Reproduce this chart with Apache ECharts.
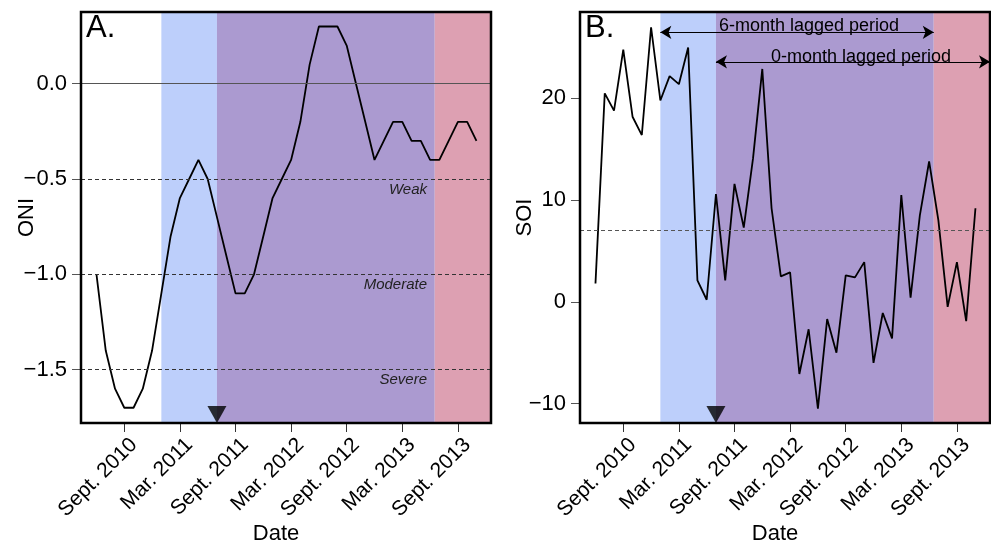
<!DOCTYPE html>
<html><head><meta charset="utf-8">
<script src="https://cdn.jsdelivr.net/npm/echarts@6/dist/echarts.min.js"></script>
<style>html,body{margin:0;padding:0;background:#fff}#c{width:991px;height:548px}</style>
</head><body><div id="c"></div>
<script>
// ---- data ----
const dates = ['2010-06','2010-07','2010-08','2010-09','2010-10','2010-11','2010-12',
  '2011-01','2011-02','2011-03','2011-04','2011-05','2011-06','2011-07','2011-08','2011-09','2011-10','2011-11','2011-12',
  '2012-01','2012-02','2012-03','2012-04','2012-05','2012-06','2012-07','2012-08','2012-09','2012-10','2012-11','2012-12',
  '2013-01','2013-02','2013-03','2013-04','2013-05','2013-06','2013-07','2013-08','2013-09','2013-10','2013-11'];
const oni = [-1.0,-1.4,-1.6,-1.7,-1.7,-1.6,-1.4,
  -1.1,-0.8,-0.6,-0.5,-0.4,-0.5,-0.7,-0.9,-1.1,-1.1,-1.0,-0.8,
  -0.6,-0.5,-0.4,-0.2,0.1,0.3,0.3,0.3,0.2,0.0,-0.2,-0.4,
  -0.3,-0.2,-0.2,-0.3,-0.3,-0.4,-0.4,-0.3,-0.2,-0.2,-0.3];
const soi = [1.8,20.5,18.8,24.8,18.2,16.4,27.0,
  19.8,22.2,21.4,25.0,2.1,0.2,10.6,2.1,11.6,7.3,14.1,22.9,
  9.2,2.5,2.9,-7.1,-2.7,-10.5,-1.7,-5.0,2.6,2.4,3.9,-6.0,
  -1.1,-3.6,10.5,0.4,8.5,13.8,8.0,-0.5,3.9,-1.9,9.2];
const tickDates = ['2010-09','2011-03','2011-09','2012-03','2012-09','2013-03','2013-09'];
const tickLabels = ['Sept. 2010','Mar. 2011','Sept. 2011','Mar. 2012','Sept. 2012','Mar. 2013','Sept. 2013'];
const oniTicks = [-1.5,-1.0,-0.5,0.0];
const soiTicks = [-10,0,10,20];
const oniThresholds = [-0.5,-1.0,-1.5];
const oniThresholdNames = ['Weak','Moderate','Severe'];
const soiThreshold = 7;
const periodStarts = ['2011-01','2011-07','2013-06-16']; // pre-lag, lagged, post
const eventDate = '2011-07';
const lag6Label = '6-month lagged period';
const lag0Label = '0-month lagged period';
const lag6Y = 26.5, lag0Y = 23.6;

// ---- helpers ----
function toIdx(s){ const p=s.split('-').map(Number); return (p[0]-2010)*12+(p[1]-9)+(p[2]?(p[2]-1)/30:0); }
const X_MIN=-4.67, X_MAX=39.57;
const FONT='Liberation Sans, Arial, sans-serif';
const tickIdx = tickDates.map(toIdx);
const pA = periodStarts.map(toIdx);
const colors = ['#bdcffb','#ab9ad0','#dda0b2'];
const fmtMinus = v => String(v).replace('-', '\u2212');

const gridA={left:81,top:12,width:410,height:411,outerBoundsMode:'none',containLabel:false};
const gridB={left:580,top:12,width:410,height:411,outerBoundsMode:'none',containLabel:false};

function xAxis(gi){
  return {type:'value',gridIndex:gi,min:X_MIN,max:X_MAX,
    name:'Date',nameLocation:'middle',nameGap:100,nameMoveOverlap:false,
    nameTextStyle:{fontSize:22,fontFamily:FONT,color:'#000',padding:[0,20,0,0]},
    axisLine:{show:false,onZero:false},splitLine:{show:false},
    axisTick:{show:true,length:9,customValues:tickIdx,lineStyle:{color:'#333',width:1}},
    axisLabel:{customValues:tickIdx,rotate:45,fontSize:21,fontFamily:FONT,color:'#000',margin:9,
      verticalAlign:'top',padding:[3,0,0,0],hideOverlap:false,
      formatter:v=>{const i=tickIdx.findIndex(t=>Math.abs(t-v)<1e-6);return i>=0?tickLabels[i]:'';}}
  };
}
function yAxis(gi,min,max,ticks,name,dec,gap){
  return {type:'value',gridIndex:gi,min:min,max:max,
    name:name,nameLocation:'middle',nameGap:gap,nameRotate:90,nameMoveOverlap:false,
    nameTextStyle:{fontSize:22,fontFamily:FONT,color:'#000'},
    axisLine:{show:false,onZero:false},splitLine:{show:false},
    axisTick:{show:true,length:9,customValues:ticks,lineStyle:{color:'#555',width:1}},
    axisLabel:{customValues:ticks,fontSize:22,fontFamily:FONT,color:'#000',margin:14,
      formatter:v=>fmtMinus(dec?Number(v).toFixed(1):Math.round(v))}
  };
}
function bands(gi){
  const ends=[pA[1],pA[2],X_MAX];
  return {type:'line',xAxisIndex:gi,yAxisIndex:gi,data:[],silent:true,z:1,
    markArea:{silent:true,data:pA.map((s,i)=>[{xAxis:s,itemStyle:{color:colors[i],opacity:1}},{xAxis:ends[i]}])}};
}
function tri(gi,ymin){
  return {type:'scatter',xAxisIndex:gi,yAxisIndex:gi,data:[[toIdx(eventDate),ymin]],symbol:'triangle',
    symbolRotate:180,symbolSize:[19,17],symbolOffset:[0,-8.5],itemStyle:{color:'#000'},clip:false,z:6,silent:true};
}
const A_MIN=-1.78,A_MAX=0.376,B_MIN=-11.92,B_MAX=28.5;

const option={
  animation:false,
  grid:[gridA,gridB],
  xAxis:[xAxis(0),xAxis(1)],
  yAxis:[yAxis(0,A_MIN,A_MAX,oniTicks,'ONI',true,43),yAxis(1,B_MIN,B_MAX,soiTicks,'SOI',false,44)],
  series:[
    bands(0),bands(1),
    {type:'line',xAxisIndex:0,yAxisIndex:0,data:[],silent:true,z:2,
      markLine:{silent:true,symbol:'none',
        data:[{yAxis:0,lineStyle:{type:'solid',color:'#555',width:1.2},label:{show:false}}].concat(
          oniThresholds.map((t,i)=>({yAxis:t,lineStyle:{type:[4,3],color:'#333',width:1},
            label:{show:true,formatter:oniThresholdNames[i],position:'insideEndBottom',distance:[64,3],
              fontSize:15,fontStyle:'italic',fontFamily:FONT,color:'#222'}})))}},
    {type:'line',xAxisIndex:1,yAxisIndex:1,data:[],silent:true,z:2,
      markLine:{silent:true,symbol:'none',data:[{yAxis:soiThreshold,lineStyle:{type:[4,3],color:'#555',width:1},label:{show:false}}]}},
    {type:'line',xAxisIndex:1,yAxisIndex:1,data:[],silent:true,z:5,
      markLine:{silent:true,symbol:['arrow','arrow'],symbolSize:[10,11],
        lineStyle:{type:'solid',color:'#000',width:1.2},
        label:{fontSize:18,fontFamily:FONT,color:'#000'},
        data:[
          [{coord:[pA[0],lag6Y],label:{show:true,formatter:lag6Label,position:'insideMiddleTop',distance:-3,padding:[0,0,0,24]}},{coord:[pA[2],lag6Y]}],
          [{coord:[pA[1],lag0Y],label:{show:true,formatter:lag0Label,position:'insideMiddleTop',distance:-4,padding:[0,0,0,16]}},{coord:[X_MAX,lag0Y]}]
        ]}},
    {type:'line',xAxisIndex:0,yAxisIndex:0,data:dates.map((d,i)=>[toIdx(d),oni[i]]),showSymbol:false,
      lineStyle:{color:'#000',width:1.8},z:4,silent:true},
    {type:'line',xAxisIndex:1,yAxisIndex:1,data:dates.map((d,i)=>[toIdx(d),soi[i]]),showSymbol:false,
      lineStyle:{color:'#000',width:1.8},z:4,silent:true},
    tri(0,A_MIN),tri(1,B_MIN)
  ],
  graphic:[
    {type:'rect',shape:{x:gridA.left,y:gridA.top,width:gridA.width,height:gridA.height},style:{fill:null,stroke:'#000',lineWidth:2.5},z:100},
    {type:'rect',shape:{x:gridB.left,y:gridB.top,width:gridB.width,height:gridB.height},style:{fill:null,stroke:'#000',lineWidth:2.5},z:100},
    {type:'text',left:gridA.left+5,top:gridA.top+1,style:{text:'A.',fontSize:31,fontFamily:FONT,fill:'#000'},z:100},
    {type:'text',left:gridB.left+5,top:gridB.top+1,style:{text:'B.',fontSize:31,fontFamily:FONT,fill:'#000'},z:100}
  ]
};
const chart=echarts.init(document.getElementById('c'),null,{renderer:'canvas'});
chart.setOption(option);
</script></body></html>
